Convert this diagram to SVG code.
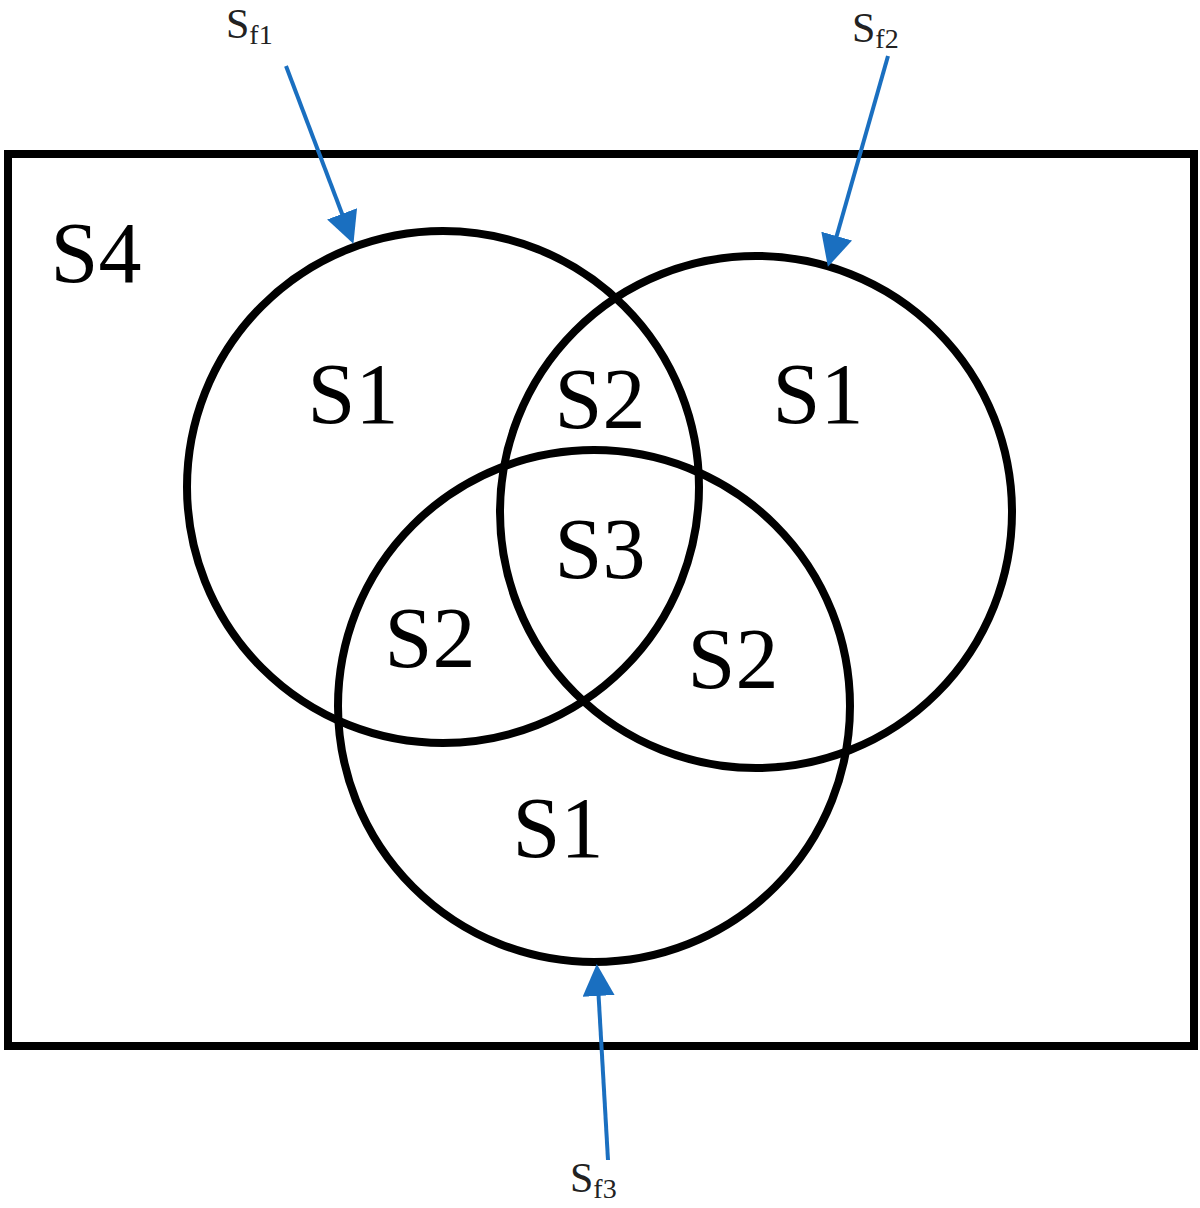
<svg xmlns="http://www.w3.org/2000/svg" width="1200" height="1208" viewBox="0 0 1200 1208">
<style>
.c{fill:none;stroke:#000;stroke-width:8}
.t{font-family:"Liberation Serif",serif;font-size:86px;text-anchor:middle;fill:#000}
.s{font-family:"Liberation Serif",serif;font-size:42px;fill:#222}
.sub{font-size:28px}
.a{stroke:#1a6fc0;stroke-width:4;fill:none;marker-end:url(#ah)}
</style>
<defs><marker id="ah" markerWidth="8" markerHeight="8" refX="7" refY="4" orient="auto" markerUnits="strokeWidth"><path d="M0,0 L8,4 L0,8 z" fill="#1a6fc0"/></marker></defs>
<rect width="1200" height="1208" fill="#fff"/>
<g id="universe"><rect x="8" y="154" width="1186" height="892" class="c"/><text x="96" y="282" class="t">S4</text></g>
<g id="circle1"><circle cx="443" cy="487" r="256" class="c"/></g>
<g id="circle2"><circle cx="756" cy="512" r="256" class="c"/></g>
<g id="circle3"><circle cx="594" cy="706" r="256" class="c"/></g>
<g id="labels">
<text x="353" y="423" class="t">S1</text>
<text x="818" y="423" class="t">S1</text>
<text x="558" y="857" class="t">S1</text>
<text x="600" y="428" class="t">S2</text>
<text x="430" y="667" class="t">S2</text>
<text x="733" y="688" class="t">S2</text>
<text x="600" y="578" class="t">S3</text>
</g>
<g id="connectors">
<line x1="286" y1="66" x2="352" y2="240" class="a"/>
<line x1="888" y1="56" x2="829" y2="263" class="a"/>
<line x1="608" y1="1160" x2="597" y2="968" class="a"/>
</g>
<g id="sf">
<text x="226" y="38" class="s">S<tspan class="sub" dy="6">f1</tspan></text>
<text x="852" y="42" class="s">S<tspan class="sub" dy="6">f2</tspan></text>
<text x="570" y="1192" class="s">S<tspan class="sub" dy="6">f3</tspan></text>
</g>
</svg>
